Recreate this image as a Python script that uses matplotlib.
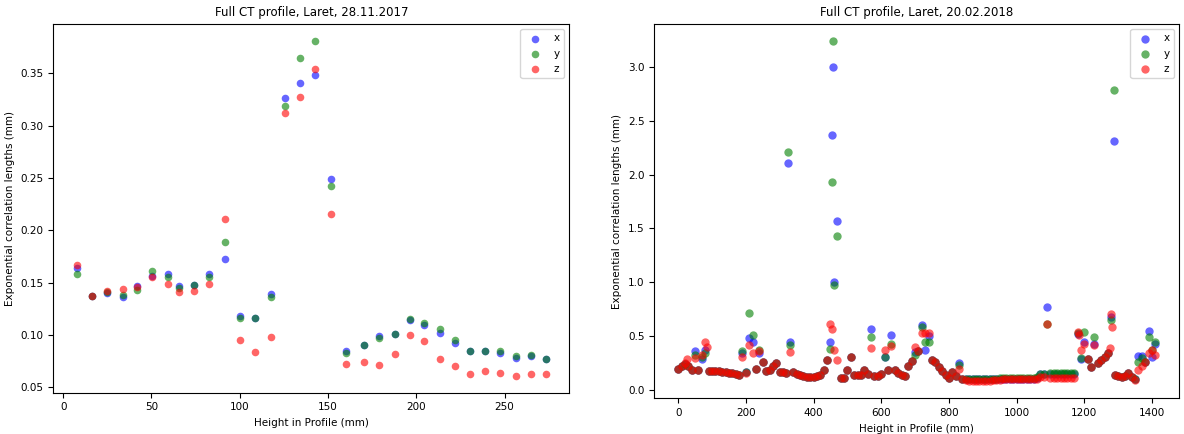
import numpy as np
import matplotlib
matplotlib.use("Agg")
import matplotlib.pyplot as plt

# ---- Left panel: 28.11.2017 ----
h1 = [7.7, 16.6, 25.1, 33.8, 42.1, 50.6, 59.5, 65.8, 74.4, 82.9, 91.8, 100.3,
      108.8, 117.5, 125.5, 134.4, 142.9, 151.8, 160.4, 170.2, 179.0, 187.8,
      196.3, 204.6, 213.3, 222.0, 230.7, 239.0, 247.6, 256.4, 265.1, 273.4]
x1 = [0.164, 0.137, 0.140, 0.136, 0.147, 0.156, 0.158, 0.147, 0.148, 0.158,
      0.173, 0.118, 0.116, 0.139, 0.326, 0.341, 0.348, 0.249, 0.085, 0.091,
      0.099, 0.101, 0.114, 0.110, 0.102, 0.092, 0.085, 0.085, 0.083, 0.078,
      0.080, 0.077]
y1 = [0.158, 0.137, 0.141, 0.138, 0.143, 0.161, 0.155, 0.145, 0.148, 0.155,
      0.189, 0.116, 0.116, 0.136, 0.319, 0.365, 0.381, 0.242, 0.083, 0.091,
      0.097, 0.101, 0.115, 0.112, 0.106, 0.095, 0.085, 0.085, 0.085, 0.080,
      0.081, 0.077]
z1 = [0.167, 0.137, 0.142, 0.144, 0.146, 0.155, 0.149, 0.141, 0.142, 0.149,
      0.211, 0.095, 0.084, 0.098, 0.312, 0.327, 0.354, 0.216, 0.072, 0.074,
      0.071, 0.082, 0.100, 0.094, 0.077, 0.070, 0.063, 0.066, 0.064, 0.061,
      0.063, 0.063]

# ---- Right panel: 20.02.2018 (sampled every 10 mm) ----
h2 = np.arange(0, 1420, 10)
x2 = [0.20, 0.22, 0.24, 0.22, 0.19, 0.36, 0.19, 0.29, 0.37, 0.18,
      0.18, 0.18, 0.18, 0.17, 0.17, 0.16, 0.16, 0.15, 0.14, 0.34,
      0.17, 0.48, 0.45, 0.20, 0.34, 0.26, 0.18, 0.19, 0.22, 0.25,
      0.17, 0.17, 0.16, 0.45, 0.17, 0.15, 0.14, 0.13, 0.12, 0.12,
      0.12, 0.13, 0.14, 0.19, 0.28, 0.45, 1.00, 1.57, 0.11, 0.11,
      0.19, 0.31, 0.14, 0.14, 0.14, 0.19, 0.15, 0.57, 0.13, 0.13,
      0.15, 0.31, 0.19, 0.51, 0.19, 0.16, 0.14, 0.13, 0.22, 0.27,
      0.35, 0.36, 0.60, 0.37, 0.50, 0.28, 0.26, 0.21, 0.18, 0.14,
      0.11, 0.17, 0.13, 0.25, 0.10, 0.10, 0.10, 0.10, 0.10, 0.10,
      0.10, 0.10, 0.10, 0.10, 0.10, 0.10, 0.10, 0.10, 0.10, 0.10,
      0.10, 0.10, 0.10, 0.10, 0.10, 0.10, 0.11, 0.15, 0.15, 0.77,
      0.15, 0.15, 0.15, 0.15, 0.15, 0.15, 0.15, 0.15, 0.52, 0.29,
      0.45, 0.29, 0.21, 0.43, 0.25, 0.28, 0.31, 0.34, 0.68, 0.14,
      0.13, 0.12, 0.13, 0.16, 0.12, 0.10, 0.32, 0.32, 0.26, 0.55,
      0.31, 0.43]
y2 = [0.20, 0.22, 0.24, 0.22, 0.19, 0.33, 0.19, 0.31, 0.34, 0.18,
      0.18, 0.18, 0.18, 0.17, 0.17, 0.16, 0.16, 0.15, 0.14, 0.36,
      0.17, 0.72, 0.51, 0.20, 0.37, 0.26, 0.18, 0.19, 0.22, 0.25,
      0.17, 0.17, 0.16, 0.42, 0.17, 0.15, 0.14, 0.13, 0.12, 0.12,
      0.12, 0.13, 0.14, 0.19, 0.28, 0.38, 0.98, 1.43, 0.11, 0.11,
      0.19, 0.31, 0.14, 0.14, 0.14, 0.19, 0.15, 0.49, 0.13, 0.13,
      0.15, 0.31, 0.19, 0.43, 0.19, 0.16, 0.14, 0.13, 0.22, 0.27,
      0.33, 0.36, 0.59, 0.45, 0.45, 0.28, 0.26, 0.21, 0.18, 0.14,
      0.11, 0.17, 0.13, 0.23, 0.10, 0.10, 0.10, 0.10, 0.10, 0.10,
      0.10, 0.10, 0.10, 0.10, 0.10, 0.11, 0.11, 0.11, 0.11, 0.11,
      0.11, 0.11, 0.11, 0.11, 0.11, 0.11, 0.12, 0.15, 0.15, 0.61,
      0.16, 0.16, 0.16, 0.16, 0.16, 0.16, 0.16, 0.16, 0.53, 0.30,
      0.54, 0.29, 0.21, 0.49, 0.25, 0.28, 0.31, 0.34, 0.65, 0.14,
      0.13, 0.12, 0.13, 0.16, 0.12, 0.10, 0.26, 0.30, 0.26, 0.49,
      0.37, 0.45]
z2 = [0.20, 0.22, 0.25, 0.22, 0.19, 0.30, 0.19, 0.33, 0.45, 0.18,
      0.18, 0.18, 0.18, 0.17, 0.17, 0.16, 0.16, 0.15, 0.14, 0.31,
      0.16, 0.42, 0.34, 0.20, 0.36, 0.26, 0.18, 0.19, 0.22, 0.25,
      0.17, 0.17, 0.16, 0.35, 0.17, 0.15, 0.14, 0.13, 0.12, 0.12,
      0.12, 0.13, 0.14, 0.19, 0.28, 0.61, 0.37, 0.28, 0.11, 0.11,
      0.19, 0.31, 0.14, 0.14, 0.14, 0.19, 0.15, 0.39, 0.13, 0.13,
      0.15, 0.37, 0.19, 0.41, 0.19, 0.16, 0.14, 0.13, 0.22, 0.27,
      0.40, 0.36, 0.53, 0.53, 0.53, 0.28, 0.26, 0.21, 0.18, 0.14,
      0.11, 0.17, 0.13, 0.20, 0.10, 0.09, 0.08, 0.08, 0.08, 0.08,
      0.08, 0.08, 0.08, 0.09, 0.09, 0.09, 0.10, 0.10, 0.10, 0.10,
      0.10, 0.10, 0.10, 0.10, 0.10, 0.10, 0.10, 0.12, 0.12, 0.61,
      0.11, 0.11, 0.11, 0.11, 0.11, 0.11, 0.11, 0.11, 0.54, 0.37,
      0.43, 0.29, 0.21, 0.42, 0.25, 0.28, 0.31, 0.34, 0.71, 0.14,
      0.13, 0.12, 0.13, 0.16, 0.12, 0.09, 0.19, 0.22, 0.26, 0.34,
      0.37, 0.33]

# extra points that sit between the 10 mm samples
x2_extra_h = [325, 457, 456, 1287]
x2_extra = [2.11, 3.00, 2.37, 2.31]
y2_extra_h = [325, 457, 456, 1287]
y2_extra = [2.21, 3.24, 1.93, 2.79]
z2_extra_h = [25, 86, 456, 1185, 1275, 1282]
z2_extra = [0.29, 0.40, 0.57, 0.51, 0.39, 0.59]

colors = ['blue', 'green', 'red']

fig = plt.figure(figsize=(11.84, 4.34), dpi=100)

# left
ax1 = fig.add_axes([0.045, 0.0952, 0.4358, 0.8495])
for vals, c, lab in zip([x1, y1, z1], colors, ['x', 'y', 'z']):
    ax1.scatter(h1, vals, s=30, color=c, alpha=0.6, linewidths=0, label=lab)
ax1.set_title('Full CT profile, Laret, 28.11.2017', fontsize=8.5)
ax1.set_xlabel('Height in Profile (mm)', fontsize=7.5)
ax1.set_ylabel('Exponential correlation lengths (mm)', fontsize=7.5)
ax1.tick_params(labelsize=7.5)
ax1.legend(loc='upper right', fontsize=7.5)

# right
ax2 = fig.add_axes([0.5526, 0.0818, 0.4434, 0.8629])
series2 = [(h2, x2, x2_extra_h, x2_extra), (h2, y2, y2_extra_h, y2_extra),
           (h2, z2, z2_extra_h, z2_extra)]
for (hh, vals, eh, ev), c, lab in zip(series2, colors, ['x', 'y', 'z']):
    hs = np.concatenate([hh, eh])
    vs = np.concatenate([vals, ev])
    ax2.scatter(hs, vs, s=36, color=c, alpha=0.6, linewidths=0, label=lab)
ax2.set_title('Full CT profile, Laret, 20.02.2018', fontsize=8.5)
ax2.set_xlabel('Height in Profile (mm)', fontsize=7.5)
ax2.set_ylabel('Exponential correlation lengths (mm)', fontsize=7.5)
ax2.tick_params(labelsize=7.5)
ax2.legend(loc='upper right', fontsize=7.5)

plt.savefig('out.png', dpi=100)
